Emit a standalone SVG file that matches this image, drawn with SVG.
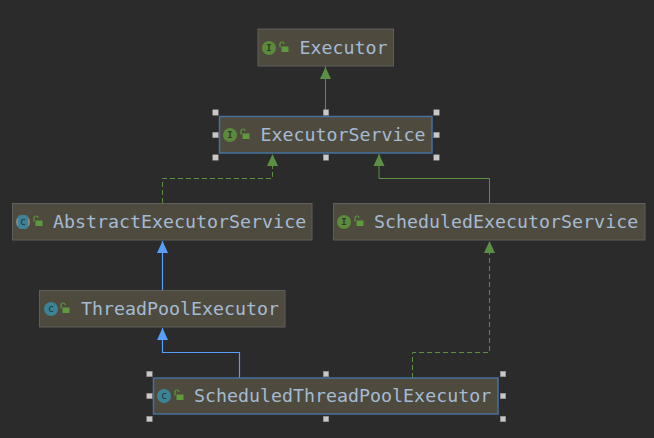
<svg xmlns="http://www.w3.org/2000/svg" width="654" height="438" viewBox="0 0 654 438">
<style>
.box{fill:#4f4a3e;stroke:#5f5e5b;stroke-width:1}
.sel{stroke:#46709f;stroke-width:1.5}
.t{font-family:"DejaVu Sans Mono","Liberation Mono",monospace;font-size:18.300px;fill:#a4bbd3}
.ic{fill:#5c8a3d}
.cc{fill:#3d8397}
.l{font-family:"DejaVu Sans Mono","Liberation Mono",monospace;font-size:9px;font-weight:bold;text-anchor:middle;fill:#2f3a2a}
.c{font-family:"DejaVu Sans Mono","Liberation Mono",monospace;font-size:10px;text-anchor:middle;fill:#26343c}
.lk{fill:#5c9a3d}
.ls{fill:none;stroke:#5c9a3d;stroke-width:1.2}
.h{fill:#c8c8c8;stroke:#8a8a8a;stroke-width:.5}
.g{fill:none;stroke:#5c9140;stroke-width:1}
.d{stroke-dasharray:5 3}
.b{fill:none;stroke:#589df6;stroke-width:1.2}
.ga{fill:#5a8f45}
.ba{fill:#589df6}
</style>
<defs>
<g id="lock"><path class="ls" d="M-4 -1V-4.500A2 2 0 0 1 0 -4.500"/><rect class="lk" x="-2.500" y="-2" width="7" height="5.500"/></g>
<g id="hs"><rect class="h" x="-2.750" y="-2.750" width="5.500" height="5.500"/></g>
</defs>
<rect width="654" height="438" fill="#2b2b2b"/>
<g id="connectors">
<path class="g" d="M325.500 116V66"/><path class="ga" d="M325.500 67L320 79H331Z"/>
<path class="g d" d="M162.500 203V178.500H272.500V154"/><path class="ga" d="M272.500 154L267 166H278Z"/>
<path class="g" d="M489.500 203V178.500H379V154"/><path class="ga" d="M379 154L373.500 166H384.500Z"/>
<path class="b" d="M162.500 290V241"/><path class="ba" d="M162.500 241L157 253H168Z"/>
<path class="b" d="M239.500 378V352.500H162.500V328"/><path class="ba" d="M162.500 328L157 340H168Z"/>
<path class="g d" d="M412.500 378V352.500H489.500V241"/><path class="ga" d="M489.500 241L484 253H495Z"/>
</g>
<g id="executor">
<rect class="box" x="258" y="29" width="135.500" height="37"/>
<circle class="ic" cx="269" cy="48" r="7"/><text class="l" x="269" y="51">I</text>
<use href="#lock" x="284" y="48.500"/>
<text class="t" x="299.500" y="54">Executor</text>
</g>
<g id="executor-service">
<rect class="box sel" x="219.500" y="116.500" width="212.500" height="36.500"/>
<circle class="ic" cx="230" cy="135" r="7"/><text class="l" x="230" y="138">I</text>
<use href="#lock" x="245" y="135.500"/>
<text class="t" x="260.500" y="141">ExecutorService</text>
<use href="#hs" x="215.500" y="112.500"/><use href="#hs" x="326" y="112.500"/><use href="#hs" x="436.500" y="112.500"/>
<use href="#hs" x="215.500" y="135"/><use href="#hs" x="436.500" y="135"/>
<use href="#hs" x="215.500" y="157.500"/><use href="#hs" x="326" y="157.500"/><use href="#hs" x="436.500" y="157.500"/>
</g>
<g id="abstract-executor-service">
<rect class="box" x="12.500" y="203.500" width="299.500" height="36.500"/>
<circle cx="23" cy="222" r="7" fill="#8a8a8a"/><rect class="cc" x="18" y="215" width="10" height="14" rx="3"/><text class="c" x="23" y="225">c</text>
<use href="#lock" x="38" y="222.500"/>
<text class="t" x="53" y="228">AbstractExecutorService</text>
</g>
<g id="scheduled-executor-service">
<rect class="box" x="333.500" y="203.500" width="311.500" height="36.500"/>
<circle class="ic" cx="344" cy="222" r="7"/><text class="l" x="344" y="225">I</text>
<use href="#lock" x="359" y="222.500"/>
<text class="t" x="374" y="228">ScheduledExecutorService</text>
</g>
<g id="thread-pool-executor">
<rect class="box" x="39.500" y="290.500" width="245.500" height="36.500"/>
<circle class="cc" cx="51" cy="309" r="7"/><text class="c" x="51" y="312">c</text>
<use href="#lock" x="65" y="309.500"/>
<text class="t" x="81" y="315">ThreadPoolExecutor</text>
</g>
<g id="scheduled-thread-pool-executor">
<rect class="box sel" x="153.500" y="378" width="344.500" height="36"/>
<circle class="cc" cx="164" cy="396" r="7"/><text class="c" x="164" y="399">c</text>
<use href="#lock" x="179" y="396.500"/>
<text class="t" x="194" y="402">ScheduledThreadPoolExecutor</text>
<use href="#hs" x="149.500" y="374"/><use href="#hs" x="326" y="374"/><use href="#hs" x="503" y="374"/>
<use href="#hs" x="149.500" y="396"/><use href="#hs" x="503" y="396"/>
<use href="#hs" x="149.500" y="419"/><use href="#hs" x="326" y="419"/><use href="#hs" x="503" y="419"/>
</g>
</svg>
